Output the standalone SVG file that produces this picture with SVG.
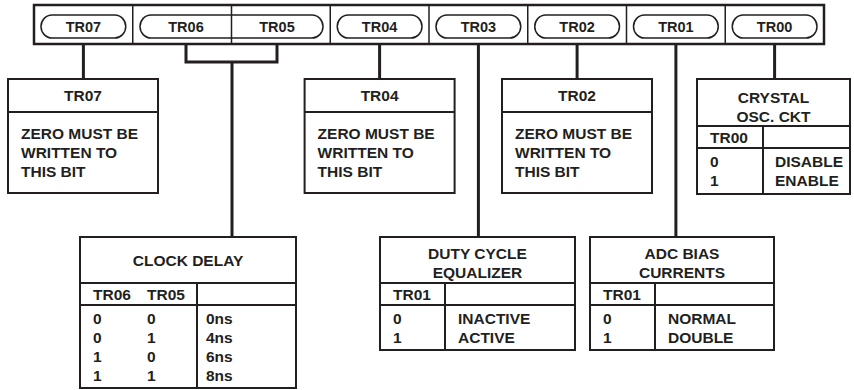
<svg xmlns="http://www.w3.org/2000/svg" width="854" height="390" viewBox="0 0 854 390">
<style>
text{font-family:"Liberation Sans",Arial,Helvetica,sans-serif;font-weight:bold;fill:#231f20}
.p{font-size:14.5px;text-anchor:middle}
.h{font-size:15.5px;text-anchor:middle}
.b{font-size:15.5px}
.box{fill:#fff;stroke:#231f20;stroke-width:2}
.ln{stroke:#231f20;stroke-width:2;fill:none}
.thin{stroke:#231f20;stroke-width:1.5;fill:none}
.pill{fill:#fff;stroke:#231f20;stroke-width:1.5}
.con{stroke:#231f20;stroke-width:3;fill:none}
</style>
<g id="register">
<rect x="34" y="5" width="790" height="39" fill="#fff" stroke="#231f20" stroke-width="2.5"/>
<rect class="pill" x="41" y="15" width="84.75" height="23" rx="11" ry="11.5"/>
<rect class="pill" x="140" y="15" width="183" height="23" rx="11" ry="11.5"/>
<rect class="pill" x="337.25" y="15" width="84.75" height="23" rx="11" ry="11.5"/>
<rect class="pill" x="436" y="15" width="84.75" height="23" rx="11" ry="11.5"/>
<rect class="pill" x="534.75" y="15" width="84.75" height="23" rx="11" ry="11.5"/>
<rect class="pill" x="633.5" y="15" width="84.75" height="23" rx="11" ry="11.5"/>
<rect class="pill" x="732.25" y="15" width="84.75" height="23" rx="11" ry="11.5"/>
<path class="thin" d="M132.75 5V44M231.5 5V44M330.25 5V44M429 5V44M527.75 5V44M626.5 5V44M725.25 5V44"/>
<text class="p" x="83.4" y="31.5">TR07</text>
<text class="p" x="186" y="31.5">TR06</text>
<text class="p" x="277" y="31.5">TR05</text>
<text class="p" x="379.6" y="31.5">TR04</text>
<text class="p" x="478.4" y="31.5">TR03</text>
<text class="p" x="577.1" y="31.5">TR02</text>
<text class="p" x="675.9" y="31.5">TR01</text>
<text class="p" x="774.6" y="31.5">TR00</text>
</g>
<g id="connectors">
<path class="con" d="M83.4 44V79"/>
<path class="con" d="M186 44V62H277V44M232 62V237"/>
<path class="con" d="M379.6 44V79"/>
<path class="con" d="M478.4 44V237"/>
<path class="con" d="M577.1 44V79"/>
<path class="con" d="M675.9 44V237"/>
<path class="con" d="M774.6 44V79"/>
</g>
<g id="box-tr07">
<rect class="box" x="8" y="79" width="150" height="114"/>
<path class="ln" d="M8 112H158"/>
<text class="h" x="83" y="101">TR07</text>
<text class="b" x="21" y="138.5">ZERO MUST BE</text>
<text class="b" x="21" y="157.5">WRITTEN TO</text>
<text class="b" x="21" y="176.5">THIS BIT</text>
</g>
<g id="box-tr04">
<rect class="box" x="304.6" y="79" width="150" height="114"/>
<path class="ln" d="M304.6 112H454.6"/>
<text class="h" x="379.6" y="101">TR04</text>
<text class="b" x="317.6" y="138.5">ZERO MUST BE</text>
<text class="b" x="317.6" y="157.5">WRITTEN TO</text>
<text class="b" x="317.6" y="176.5">THIS BIT</text>
</g>
<g id="box-tr02">
<rect class="box" x="502" y="79" width="150" height="114"/>
<path class="ln" d="M502 112H652"/>
<text class="h" x="577" y="101">TR02</text>
<text class="b" x="515" y="138.5">ZERO MUST BE</text>
<text class="b" x="515" y="157.5">WRITTEN TO</text>
<text class="b" x="515" y="176.5">THIS BIT</text>
</g>
<g id="box-tr00">
<rect class="box" x="697" y="79" width="153" height="115"/>
<path class="ln" d="M697 126H850M697 148H850M763 126V194"/>
<text class="h" x="773.5" y="103">CRYSTAL</text>
<text class="h" x="773.5" y="122">OSC. CKT</text>
<text class="b" x="710" y="142.5">TR00</text>
<text class="b" x="710" y="166.5">0</text>
<text class="b" x="710" y="185.5">1</text>
<text class="b" x="775" y="166.5">DISABLE</text>
<text class="b" x="775" y="185.5">ENABLE</text>
</g>
<g id="box-clock">
<rect class="box" x="80" y="237" width="216" height="151"/>
<path class="ln" d="M80 283H296M80 305H296M197 283V388"/>
<text class="h" x="188" y="265.5">CLOCK DELAY</text>
<text class="b" x="93" y="299.5">TR06</text>
<text class="b" x="147" y="299.5">TR05</text>
<text class="b" x="93" y="323.5">0</text>
<text class="b" x="93" y="342.5">0</text>
<text class="b" x="93" y="361.5">1</text>
<text class="b" x="93" y="380.5">1</text>
<text class="b" x="147" y="323.5">0</text>
<text class="b" x="147" y="342.5">1</text>
<text class="b" x="147" y="361.5">0</text>
<text class="b" x="147" y="380.5">1</text>
<text class="b" x="206" y="323.5">0ns</text>
<text class="b" x="206" y="342.5">4ns</text>
<text class="b" x="206" y="361.5">6ns</text>
<text class="b" x="206" y="380.5">8ns</text>
</g>
<g id="box-duty">
<rect class="box" x="380" y="237" width="195" height="113"/>
<path class="ln" d="M380 283H575M380 305H575M445 283V350"/>
<text class="h" x="477.5" y="259">DUTY CYCLE</text>
<text class="h" x="477.5" y="278">EQUALIZER</text>
<text class="b" x="393" y="299.5">TR01</text>
<text class="b" x="393" y="323.5">0</text>
<text class="b" x="393" y="342.5">1</text>
<text class="b" x="458" y="323.5">INACTIVE</text>
<text class="b" x="458" y="342.5">ACTIVE</text>
</g>
<g id="box-adc">
<rect class="box" x="590" y="237" width="184" height="113"/>
<path class="ln" d="M590 283H774M590 305H774M655 283V350"/>
<text class="h" x="682" y="259">ADC BIAS</text>
<text class="h" x="682" y="278">CURRENTS</text>
<text class="b" x="603" y="299.5">TR01</text>
<text class="b" x="603" y="323.5">0</text>
<text class="b" x="603" y="342.5">1</text>
<text class="b" x="668" y="323.5">NORMAL</text>
<text class="b" x="668" y="342.5">DOUBLE</text>
</g>
</svg>
